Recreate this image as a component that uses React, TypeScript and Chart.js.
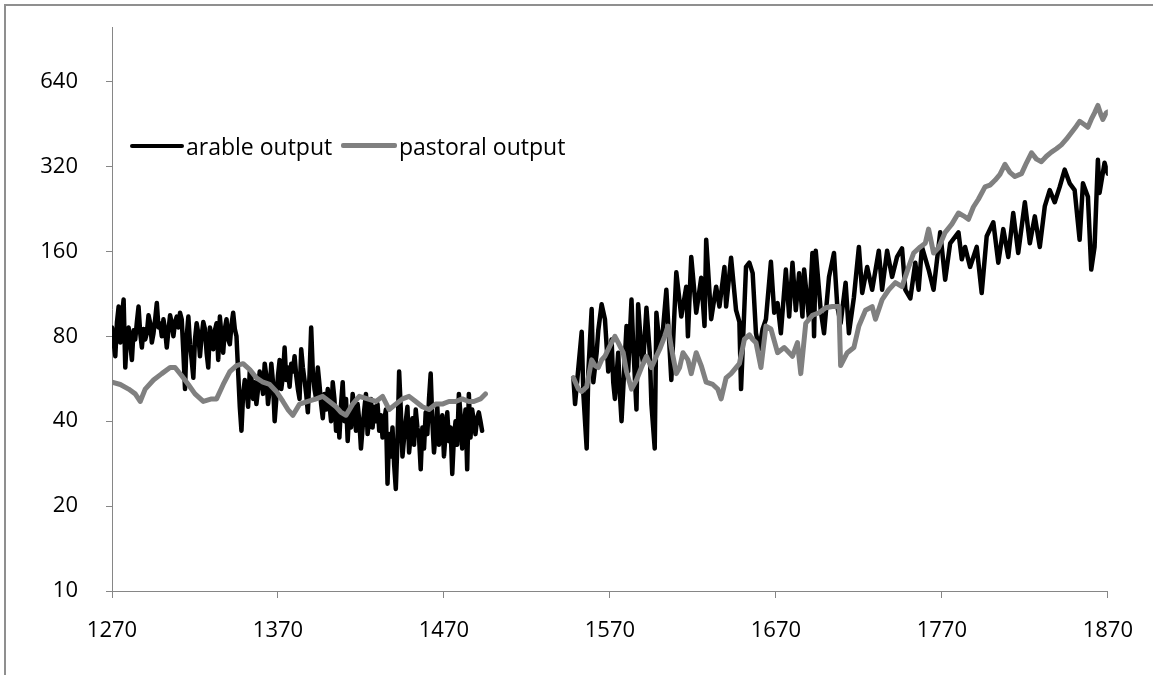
import { useEffect, useRef } from "react";
import { Chart, registerables } from "chart.js";

Chart.register(...registerables);

const FONT = "'Open Sans', 'Liberation Sans', sans-serif";
const AXIS = "#868686";

const xTicks = [1270, 1370, 1470, 1570, 1670, 1770, 1870];
const yTicks = [10, 20, 40, 80, 160, 320, 640];

// Arable output, annual values 1270..1493 (first run of the series)
const arableEarlyFirstYear = 1270;
const arableEarlyValues = [
  86, 76, 68, 90, 102, 76, 95, 108, 62, 80,
  86, 75, 66, 84, 78, 90, 102, 82, 73, 85,
  78, 82, 95, 89, 76, 82, 92, 105, 86, 89,
  80, 92, 84, 73, 84, 95, 89, 80, 90, 94,
  86, 97, 92, 70, 52, 80, 94, 75, 66, 57,
  78, 89, 82, 68, 80, 90, 85, 70, 62, 86,
  80, 72, 84, 89, 66, 94, 80, 70, 85, 92,
  78, 75, 88, 97, 85, 80, 60, 45, 37, 50,
  56, 52, 45, 60, 57, 48, 55, 46, 52, 60,
  56, 50, 64, 58, 46, 52, 64, 55, 40, 48,
  58, 66, 52, 58, 73, 56, 62, 53, 64, 60,
  68, 58, 52, 48, 72, 62, 56, 50, 43, 58,
  86, 60, 52, 48, 62, 54, 46, 41, 50, 44,
  52, 46, 40, 55, 48, 37, 44, 35, 46, 55,
  40, 48, 34, 44, 38, 50, 44, 37, 46, 40,
  32, 38, 44, 50, 36, 41, 48, 38, 45, 40,
  46, 37, 42, 35, 40, 44, 24, 36, 30, 38,
  28, 23, 34, 60, 44, 30, 35, 40, 45, 31,
  36, 41, 33, 44, 38, 35, 27, 38, 32, 43,
  36, 48, 59, 40, 31, 36, 45, 33, 38, 42,
  30, 36, 43, 34, 38, 26, 35, 40, 33, 50,
  42, 32, 38, 44, 27, 50, 35, 44, 40, 36,
  41, 43, 40, 37,
];

// Break in the record
const gapYear = 1520;

// Arable output, second run of the series
const arableLateYears = [
  1548, 1549, 1551, 1553, 1554, 1556, 1557, 1559, 1560, 1562,
  1563, 1565, 1567, 1569, 1571, 1572, 1573, 1575, 1576, 1577,
  1580, 1581, 1583, 1584, 1586, 1587, 1589, 1590, 1592, 1594,
  1595, 1597, 1598, 1600, 1602, 1604, 1607, 1610, 1613, 1616,
  1617, 1619, 1622, 1625, 1627, 1628, 1631, 1634, 1636, 1639,
  1640, 1643, 1646, 1648, 1649, 1652, 1654, 1656, 1658, 1660,
  1662, 1664, 1667, 1669, 1671, 1673, 1676, 1678, 1680, 1682,
  1684, 1686, 1687, 1690, 1692, 1693, 1694, 1697, 1699, 1702,
  1705, 1707, 1709, 1712, 1714, 1717, 1720, 1722, 1725, 1728,
  1732, 1734, 1737, 1740, 1743, 1746, 1748, 1751, 1754, 1756,
  1758, 1762, 1765, 1769, 1772, 1775, 1780, 1782, 1784, 1787,
  1791, 1794, 1797, 1801, 1804, 1807, 1810, 1813, 1816, 1820,
  1823, 1826, 1829, 1832, 1835, 1838, 1841, 1844, 1847, 1850,
  1853, 1855, 1858, 1860, 1862, 1864, 1865, 1868, 1870,
];

const arableLateValues = [
  57, 46, 62, 83, 50, 32, 60, 100, 55, 70,
  84, 104, 92, 60, 78, 55, 48, 70, 50, 40,
  87, 60, 108, 75, 44, 104, 70, 64, 101, 70,
  46, 32, 97, 73, 85, 117, 56, 135, 94, 120,
  80, 153, 97, 129, 87, 176, 92, 120, 102, 141,
  102, 152, 99, 90, 52, 141, 146, 134, 82, 72,
  85, 92, 147, 97, 105, 82, 138, 94, 146, 99,
  134, 94, 138, 92, 158, 80, 161, 99, 82, 130,
  158, 102, 89, 124, 82, 110, 166, 114, 141, 117,
  161, 117, 161, 130, 153, 164, 117, 109, 146, 117,
  166, 138, 117, 187, 127, 171, 187, 150, 166, 141,
  166, 114, 181, 203, 146, 192, 153, 219, 158, 239,
  171, 213, 166, 231, 264, 239, 271, 312, 279, 264,
  176, 279, 250, 138, 166, 338, 258, 330, 302,
];

const pastoralYears = [
  1270, 1275, 1280, 1284, 1287, 1290, 1295, 1300, 1305, 1308,
  1312, 1316, 1320, 1325, 1330, 1333, 1337, 1341, 1345, 1349,
  1353, 1357, 1361, 1365, 1369, 1373, 1376, 1379, 1383, 1388,
  1393, 1397, 1401, 1405, 1408, 1411, 1415, 1419, 1424, 1429,
  1433, 1437, 1441, 1445, 1449, 1453, 1457, 1461, 1465, 1469,
  1473, 1477, 1481, 1485, 1488, 1492, 1495,
  1520,
  1548, 1551, 1553, 1556, 1559, 1561, 1563, 1565, 1567, 1570,
  1573, 1575, 1578, 1580, 1583, 1586, 1589, 1592, 1595, 1598,
  1600, 1603, 1605, 1607, 1610, 1612, 1614, 1617, 1619, 1622,
  1625, 1628, 1632, 1635, 1637, 1640, 1643, 1646, 1648, 1651,
  1654, 1656, 1658, 1661, 1664, 1667, 1671, 1675, 1680, 1683,
  1685, 1688, 1692, 1696, 1700, 1704, 1708, 1709, 1713, 1717,
  1720, 1724, 1728, 1730, 1734, 1738, 1742, 1746, 1750, 1753,
  1757, 1760, 1762, 1765, 1768, 1772, 1776, 1780, 1783, 1786,
  1789, 1792, 1796, 1799, 1802, 1805, 1808, 1811, 1814, 1818,
  1821, 1824, 1827, 1830, 1833, 1836, 1839, 1842, 1845, 1848,
  1851, 1853, 1856, 1858, 1860, 1862, 1864, 1866, 1867, 1869,
  1870,
];

const pastoralValues: (number | null)[] = [
  55, 54, 52, 50, 47, 52, 56, 59, 62, 62,
  58, 54, 50, 47, 48, 48, 54, 60, 63, 64,
  61, 57, 55, 54, 51, 47, 44, 42, 46, 47,
  48, 49, 47, 45, 43, 42, 46, 49, 48, 47,
  49, 44, 46, 48, 49, 47, 45, 44, 46, 46,
  47, 47, 48, 47, 47, 48, 50,
  null,
  57, 52, 51, 53, 66, 63, 62, 66, 68, 74,
  80, 76, 70, 60, 52, 56, 62, 68, 62, 68,
  72, 80, 87, 73, 59, 62, 70, 66, 59, 70,
  63, 55, 54, 52, 48, 57, 59, 62, 64, 78,
  81, 78, 76, 62, 87, 85, 70, 73, 68, 76,
  59, 89, 95, 97, 101, 102, 102, 63, 70, 73,
  87, 99, 102, 92, 108, 117, 124, 120, 141, 158,
  166, 171, 192, 158, 165, 187, 200, 219, 214, 208,
  230, 245, 271, 275, 286, 300, 326, 305, 295, 302,
  330, 358, 340, 333, 348, 360, 370, 382, 400, 422,
  445, 463, 450, 441, 470, 496, 527, 485, 470, 496,
  500,
];

const seriesNames = ["arable output", "pastoral output"];
const seriesColors = ["#000000", "#808080"];

function arablePoints() {
  const pts: { x: number; y: number | null }[] = arableEarlyValues.map((v, i) => ({
    x: arableEarlyFirstYear + i,
    y: v,
  }));
  pts.push({ x: gapYear, y: null });
  arableLateYears.forEach((x, i) => pts.push({ x, y: arableLateValues[i] }));
  return pts;
}

function toPoints(xs: number[], ys: (number | null)[]) {
  return xs.map((x, i) => ({ x, y: ys[i] }));
}

export default function App() {
  const ref = useRef<HTMLCanvasElement>(null);

  useEffect(() => {
    if (!ref.current) return;
    const chart = new Chart(ref.current, {
      type: "line",
      data: {
        datasets: [
          {
            label: seriesNames[0],
            data: arablePoints() as any,
            borderColor: seriesColors[0],
            backgroundColor: seriesColors[0],
            borderWidth: 4.5,
            pointRadius: 0,
            tension: 0,
            spanGaps: false,
            borderJoinStyle: "round",
            borderCapStyle: "round",
            order: 1,
          },
          {
            label: seriesNames[1],
            data: toPoints(pastoralYears, pastoralValues) as any,
            borderColor: seriesColors[1],
            backgroundColor: seriesColors[1],
            borderWidth: 5,
            pointRadius: 0,
            tension: 0,
            spanGaps: false,
            borderJoinStyle: "round",
            borderCapStyle: "round",
            order: 0,
          },
        ],
      },
      options: {
        responsive: false,
        animation: false,
        layout: { padding: { left: 0, top: 27, right: 41, bottom: 24 } },
        plugins: {
          legend: { display: false },
          tooltip: { enabled: false },
        },
        scales: {
          x: {
            type: "linear",
            min: 1270,
            max: 1870,
            afterBuildTicks: (s: any) => {
              s.ticks = xTicks.map((v) => ({ value: v }));
            },
            afterFit: (s: any) => {
              s.height = 60;
            },
            grid: {
              drawOnChartArea: false,
              drawTicks: true,
              tickLength: 7,
              color: AXIS,
              lineWidth: 1,
            },
            border: { color: AXIS, width: 1 },
            ticks: {
              color: "#000",
              font: { family: FONT, size: 22 },
              padding: 20,
              maxRotation: 0,
              autoSkip: false,
              callback: (v: any) => String(v),
            },
          },
          y: {
            type: "logarithmic",
            min: 10,
            max: 1000,
            afterBuildTicks: (s: any) => {
              s.ticks = yTicks.map((v) => ({ value: v }));
            },
            afterFit: (s: any) => {
              s.width = 112;
              s.paddingTop = 0;
              s.paddingBottom = 0;
            },
            grid: {
              drawOnChartArea: false,
              drawTicks: true,
              tickLength: 6,
              color: AXIS,
              lineWidth: 1,
            },
            border: { color: AXIS, width: 1 },
            ticks: {
              color: "#000",
              font: { family: FONT, size: 22 },
              padding: 28,
              autoSkip: false,
              callback: (v: any) => String(v),
            },
          },
        },
      },
    });
    return () => chart.destroy();
  }, []);

  const textStyle: any = {
    position: "absolute",
    top: 131,
    height: 30,
    lineHeight: "30px",
    fontFamily: FONT,
    fontSize: 23,
    color: "#000",
    whiteSpace: "nowrap",
  };

  return (
    <div style={{ position: "absolute", left: 0, top: 0, width: 1153, height: 675, overflow: "hidden", background: "#fff" }}>
      <canvas ref={ref} width={1153} height={675} style={{ position: "absolute", left: 0, top: 0 }} />
      <div
        style={{
          position: "absolute",
          left: 4,
          top: 4,
          width: 1149,
          height: 671,
          boxSizing: "border-box",
          borderTop: "2px solid #8f8f8f",
          borderLeft: "2px solid #8f8f8f",
          pointerEvents: "none",
        }}
      />
      <div style={{ position: "absolute", left: 130, top: 144, width: 54, height: 4, background: seriesColors[0], borderRadius: 2 }} />
      <div style={{ ...textStyle, left: 186 }}>{seriesNames[0]}</div>
      <div style={{ position: "absolute", left: 341, top: 143, width: 56, height: 5, background: seriesColors[1], borderRadius: 2 }} />
      <div style={{ ...textStyle, left: 399 }}>{seriesNames[1]}</div>
    </div>
  );
}
